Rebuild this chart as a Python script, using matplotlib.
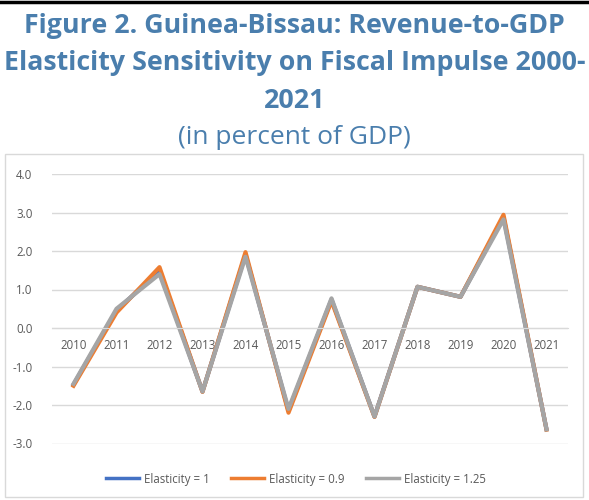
import matplotlib
matplotlib.use("Agg")
import matplotlib.pyplot as plt
from matplotlib.patches import Rectangle
from matplotlib.lines import Line2D

years = ["2010", "2011", "2012", "2013", "2014", "2015",
         "2016", "2017", "2018", "2019", "2020", "2021"]
elast_1 = [-1.47, 0.45, 1.50, -1.65, 1.91, -2.15, 0.74, -2.30, 1.07, 0.81, 2.88, -2.63]
elast_09 = [-1.50, 0.40, 1.58, -1.66, 1.97, -2.20, 0.70, -2.31, 1.07, 0.81, 2.94, -2.64]
elast_125 = [-1.45, 0.50, 1.40, -1.65, 1.85, -2.10, 0.77, -2.30, 1.07, 0.81, 2.82, -2.63]
yticks = [-3, -2, -1, 0, 1, 2, 3, 4]

title_color = "#4A7EAD"
tick_color = "#595959"
grid_color = "#D9D9D9"
font = "Open Sans"

W, H = 589, 500
fig = plt.figure(figsize=(W / 100, H / 100), dpi=100)

# rule across the top and the chart frame
fig.add_artist(Line2D([0, 1], [1 - 1.5 / H, 1 - 1.5 / H], color="black", lw=2.5,
                      transform=fig.transFigure))
fig.add_artist(Rectangle((5 / W, 3 / H), 578 / W, 149 / H + 194 / H,
                         transform=fig.transFigure, fill=False,
                         edgecolor=grid_color, lw=1.0))

title_lines = ["Figure 2. Guinea-Bissau: Revenue-to-GDP",
               "Elasticity Sensitivity on Fiscal Impulse 2000-",
               "2021"]
for txt, base in zip(title_lines, [33, 70, 108]):
    fig.text(0.5, 1 - base / H, txt, ha="center", va="baseline",
             fontsize=19.3, fontweight="bold", family=font, color=title_color)
fig.text(0.5, 1 - 144 / H, "(in percent of GDP)", ha="center", va="baseline",
         fontsize=19, family=font, color=title_color)

ax = fig.add_axes([52 / W, 1 - 443.5 / H, 516 / W, 269.5 / H])
x = list(range(len(years)))
ax.plot(x, elast_1, color="#4472C4", lw=3.0, label="Elasticity = 1")
ax.plot(x, elast_09, color="#ED7D31", lw=3.0, label="Elasticity = 0.9")
ax.plot(x, elast_125, color="#A5A5A5", lw=3.0, label="Elasticity = 1.25")

ax.set_xlim(-0.5, len(years) - 0.5)
ax.set_ylim(-3, 4)
ax.set_yticks(yticks)
ax.set_yticklabels([f"{v:.1f}" for v in yticks])
ax.set_xticks(x)
ax.set_xticklabels(years)
ax.grid(axis="y", color=grid_color, lw=1.0)
ax.set_axisbelow(True)
for s in ["top", "right", "left"]:
    ax.spines[s].set_visible(False)
ax.spines["bottom"].set_position(("data", 0))
ax.spines["bottom"].set_color(grid_color)
ax.tick_params(axis="both", length=0, colors=tick_color, labelsize=8.3)
ax.tick_params(axis="y", pad=14)
ax.tick_params(axis="x", pad=8)
for lab in ax.get_xticklabels() + ax.get_yticklabels():
    lab.set_family(font)

leg = fig.legend(loc="center", bbox_to_anchor=(296 / W, 1 - 479 / H),
                 ncol=3, frameon=False, fontsize=8.3, handlelength=2.8,
                 columnspacing=1.9, handletextpad=0.45)
for t in leg.get_texts():
    t.set_color(tick_color)
    t.set_family(font)
for h in leg.get_lines():
    h.set_linewidth(2.5)

fig.savefig("out.png", dpi=100)
